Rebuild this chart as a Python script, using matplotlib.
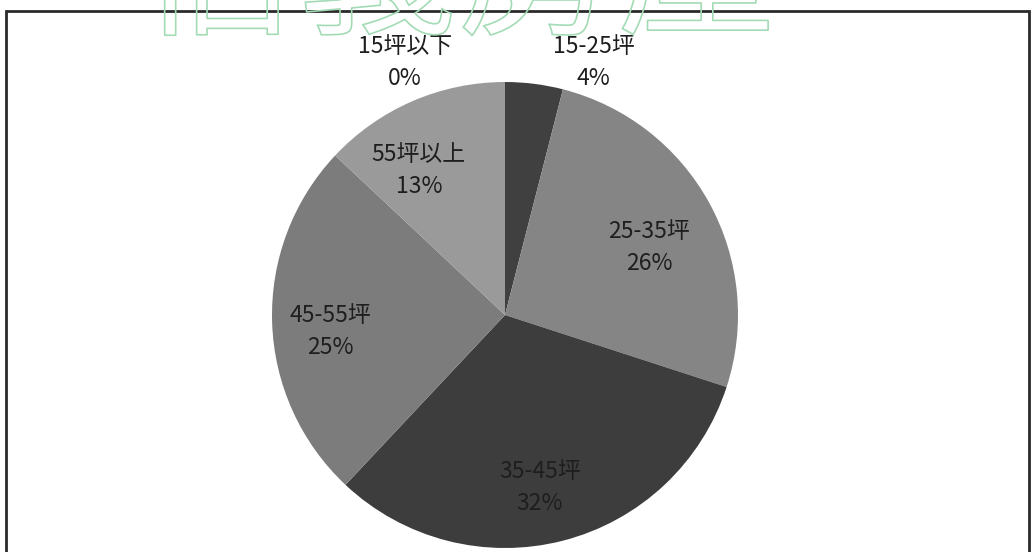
import matplotlib.pyplot as plt
from matplotlib import patheffects
from matplotlib.patches import Rectangle

categories = ['15坪以下', '15-25坪', '25-35坪', '35-45坪', '45-55坪', '55坪以上']
shares = [0, 4, 26, 32, 25, 13]
colors = ['#5a5a5a', '#404040', '#858585', '#3d3d3d', '#7c7c7c', '#9a9a9a']
# label centres in pie data units (radius = 1)
label_pos = [(-0.43, 1.085), (0.38, 1.085), (0.62, 0.29),
             (0.15, -0.74), (-0.75, -0.07), (-0.37, 0.62)]

W, H = 1032, 552
cx, cy, R = 505, 315, 233

fig = plt.figure(figsize=(W / 100, H / 100), dpi=100)
fig.patch.set_facecolor('white')

# frame around the chart
fig.add_artist(Rectangle((5.5 / W, -0.05), (1029 - 5.5) / W, (H - 10.5) / H + 0.05,
                         transform=fig.transFigure, fill=False,
                         edgecolor='#2a2a2a', linewidth=2))

ax = fig.add_axes([(cx - R) / W, (H - cy - R) / H, 2 * R / W, 2 * R / H])
ax.pie(shares, colors=colors, startangle=90, counterclock=False, radius=1,
       wedgeprops=dict(linewidth=0))
ax.set_xlim(-1, 1)
ax.set_ylim(-1, 1)
ax.set_aspect('equal')
ax.axis('off')

for name, pct, (x, y) in zip(categories, shares, label_pos):
    ax.text(x, y, f'{name}\n{pct}%', ha='center', va='center', fontsize=16.5,
            linespacing=1.5, color='#1e1e1e', family=['Noto Sans CJK TC', 'DejaVu Sans'],
            clip_on=False)

# watermark, cut off by the top edge
wm = fig.text(0.443, 1 - 22 / H, '信義房屋', ha='center', va='baseline',
              fontsize=115, color=(1, 1, 1, 0), family=['Noto Sans CJK TC'])
wm.set_path_effects([patheffects.Stroke(linewidth=1.2, foreground='#a3dbb5')])

fig.savefig('out.png', dpi=100, facecolor='white')
